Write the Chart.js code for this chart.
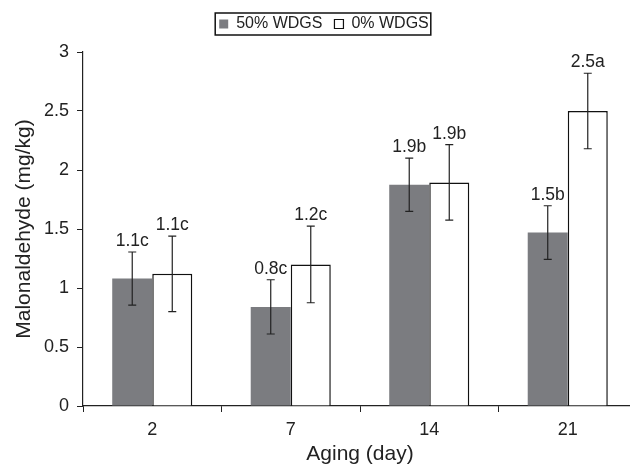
<!DOCTYPE html>
<html>
<head>
<meta charset="utf-8">
<script src="https://cdn.jsdelivr.net/npm/chart.js@4"></script>
<style>
html,body{margin:0;padding:0;background:#fff;overflow:hidden;}
#wrap{width:630px;height:467px;overflow:hidden;position:relative;}
#c{position:absolute;left:0;top:0;}
</style>
</head>
<body>
<div id="wrap"><canvas id="c" width="640" height="467" style="width:640px;height:467px"></canvas></div>
<script>
const categories = ['2', '7', '14', '21'];
const seriesNames = ['50% WDGS', '0% WDGS'];
const wdgs50 = [1.08, 0.84, 1.875, 1.47];
const wdgs0 = [1.12, 1.20, 1.895, 2.50];
const err50 = [0.225, 0.23, 0.225, 0.227];
const err0 = [0.32, 0.325, 0.32, 0.32];
const labels50 = ['1.1c', '0.8c', '1.9b', '1.5b'];
const labels0 = ['1.1c', '1.2c', '1.9b', '2.5a'];
const yTicks = [0, 0.5, 1, 1.5, 2, 2.5, 3];

const FONT = "'Liberation Sans', Arial, Helvetica, sans-serif";
const errs = [err50, err0];
const texts = [labels50, labels0];

const legendFix = {
  id: 'legendFix',
  beforeInit(chart) {
    const lg = chart.legend;
    if (!lg) return;
    const fit = lg.fit;
    lg.fit = function () { fit.call(this); this.height = 48; };
  },
  afterDraw(chart) {
    const lg = chart.legend;
    if (!lg || !lg.legendHitBoxes || !lg.legendHitBoxes.length) return;
    const hb = lg.legendHitBoxes;
    const l = hb[0].left - 4;
    const r = hb[hb.length - 1].left + hb[hb.length - 1].width + 2;
    const t = hb[0].top - 3;
    const b = hb[0].top + hb[0].height + 3;
    const ctx = chart.ctx;
    ctx.save();
    ctx.strokeStyle = '#111';
    ctx.lineWidth = 1.5;
    ctx.strokeRect(l, t, r - l, b - t);
    ctx.restore();
  }
};

const errorBars = {
  id: 'errorBars',
  afterDatasetsDraw(chart) {
    const ctx = chart.ctx;
    const y = chart.scales.y;
    ctx.save();
    chart.data.datasets.forEach((ds, di) => {
      const meta = chart.getDatasetMeta(di);
      meta.data.forEach((bar, i) => {
        const v = ds.data[i];
        const e = errs[di][i];
        const yt = y.getPixelForValue(v + e);
        const yb = y.getPixelForValue(v - e);
        const x = bar.x;
        ctx.strokeStyle = '#222';
        ctx.lineWidth = 1.2;
        ctx.beginPath();
        ctx.moveTo(x, yt); ctx.lineTo(x, yb);
        ctx.moveTo(x - 4, yt); ctx.lineTo(x + 4, yt);
        ctx.moveTo(x - 4, yb); ctx.lineTo(x + 4, yb);
        ctx.stroke();
        ctx.fillStyle = '#222';
        ctx.font = '17.5px ' + FONT;
        ctx.textAlign = 'center';
        ctx.textBaseline = 'alphabetic';
        ctx.fillText(texts[di][i], x, yt - 6);
      });
    });
    ctx.restore();
  }
};

new Chart(document.getElementById('c'), {
  type: 'bar',
  data: {
    labels: categories,
    datasets: [
      { label: seriesNames[0], data: wdgs50, backgroundColor: '#7b7c80', borderWidth: 0,
        categoryPercentage: 0.578, barPercentage: 1.0 },
      { label: seriesNames[1], data: wdgs0, backgroundColor: '#ffffff', borderColor: '#111', borderWidth: 1.5,
        categoryPercentage: 0.578, barPercentage: 1.0 }
    ]
  },
  options: {
    responsive: false,
    animation: false,
    devicePixelRatio: 1,
    layout: { padding: { left: 11, right: 3, top: 4, bottom: 0 } },
    plugins: {
      legend: {
        display: true,
        position: 'top',
        labels: {
          boxWidth: 9, boxHeight: 9, padding: 12, color: '#222',
          font: { family: FONT, size: 16 },
          generateLabels(chart) {
            return chart.data.datasets.map((ds, i) => ({
              text: ds.label,
              fillStyle: ds.backgroundColor,
              strokeStyle: i === 0 ? ds.backgroundColor : '#111',
              lineWidth: i === 0 ? 0 : 1.2,
              hidden: false,
              datasetIndex: i,
              fontColor: '#222'
            }));
          }
        }
      },
      tooltip: { enabled: false }
    },
    scales: {
      x: {
        afterFit(s) { s.height = 61; },
        grid: { display: true, drawOnChartArea: false, drawTicks: true, tickLength: 6, color: '#222', offset: true },
        border: { display: true, color: '#222', width: 1.2 },
        ticks: { color: '#222', font: { family: FONT, size: 18 }, padding: 7 },
        title: { display: true, text: 'Aging (day)', color: '#222', font: { family: FONT, size: 21 }, padding: { top: 0, bottom: 0 } }
      },
      y: {
        min: 0, max: 3,
        afterFit(s) { s.width = 72; },
        afterBuildTicks(s) { s.ticks = yTicks.map(v => ({ value: v })); },
        grid: { display: true, drawOnChartArea: false, drawTicks: true, tickLength: 6, color: '#222' },
        border: { display: true, color: '#222', width: 1.2 },
        ticks: { color: '#222', font: { family: FONT, size: 18 }, padding: 8, callback: v => String(v) },
        title: { display: true, text: 'Malonaldehyde (mg/kg)', color: '#222', font: { family: FONT, size: 21 }, padding: { top: 1, bottom: 0 } }
      }
    }
  },
  plugins: [legendFix, errorBars]
});
</script>
</body>
</html>
